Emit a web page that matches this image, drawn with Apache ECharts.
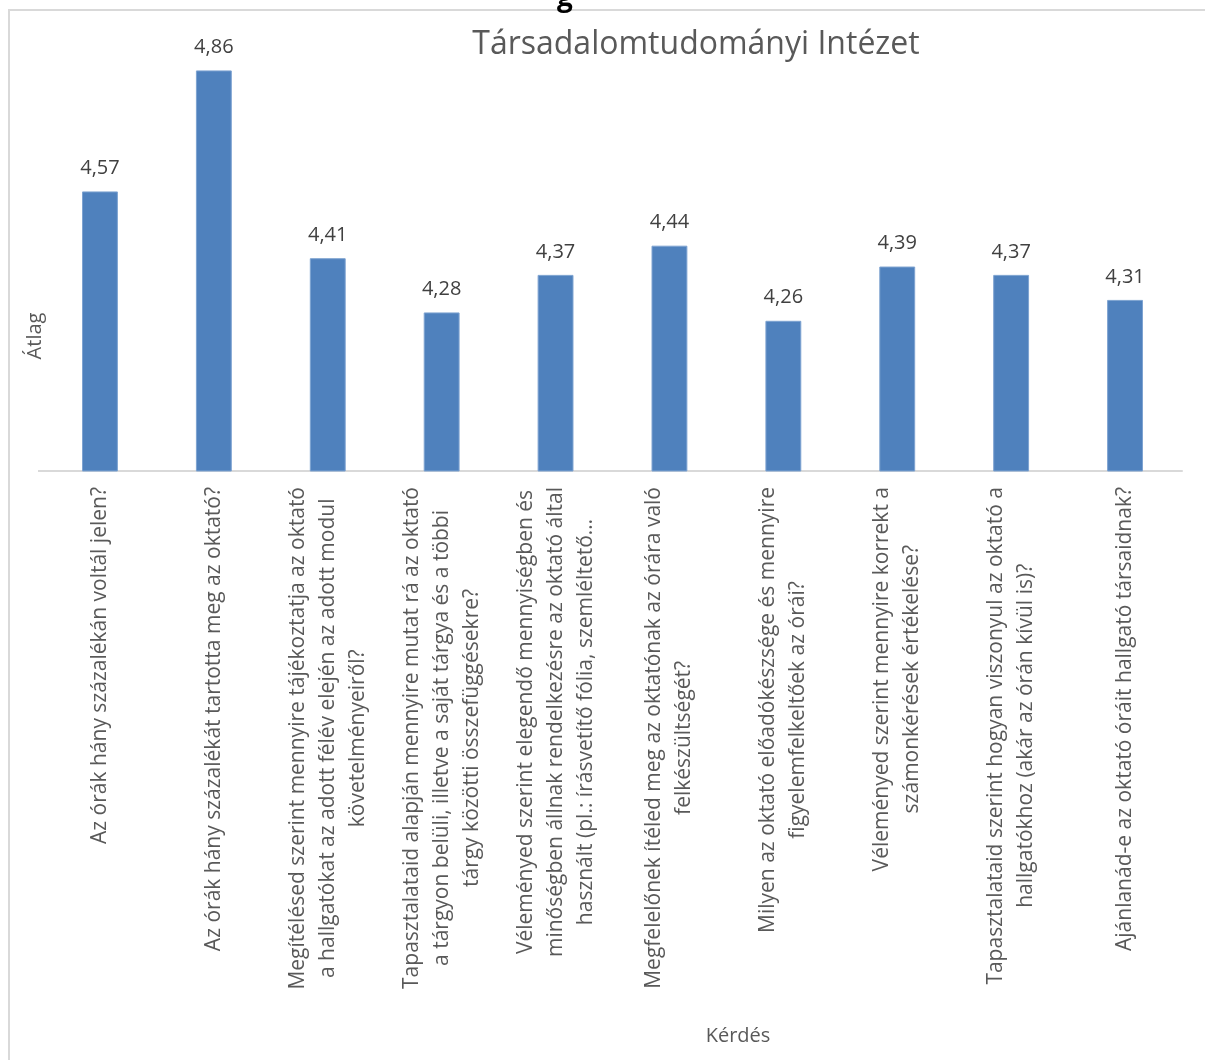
<!DOCTYPE html>
<html>
<head>
<meta charset="utf-8">
<script src="https://cdn.jsdelivr.net/npm/echarts@6.0.0/dist/echarts.min.js"></script>
<style>
  html, body { margin: 0; padding: 0; background: #fff; }
  #chart { width: 1205px; height: 1060px; }
</style>
</head>
<body>
<div id="chart"></div>
<script>
// kérdések (x tengely), sortörésekkel ahogy az eredetin
const questions = [
  'Az órák hány százalékán voltál jelen?',
  'Az órák hány százalékát tartotta meg az oktató?',
  'Megítélésed szerint mennyire tájékoztatja az oktató\na hallgatókat az adott félév elején az adott modul\nkövetelményeiről?',
  'Tapasztalataid alapján mennyire mutat rá az oktató\na tárgyon belüli, illetve a saját tárgya és a többi\ntárgy közötti összefüggésekre?',
  'Véleményed szerint elegendő mennyiségben és\nminőségben állnak rendelkezésre az oktató által\nhasznált (pl.: írásvetítő fólia, szemléltető…',
  'Megfelelőnek ítéled meg az oktatónak az órára való\nfelkészültségét?',
  'Milyen az oktató előadókészsége és mennyire\nfigyelemfelkeltőek az órái?',
  'Véleményed szerint mennyire korrekt a\nszámonkérések értékelése?',
  'Tapasztalataid szerint hogyan viszonyul az oktató a\nhallgatókhoz (akár az órán kívül is)?',
  'Ajánlanád-e az oktató óráit hallgató társaidnak?'
];
const averages = [4.57, 4.86, 4.41, 4.28, 4.37, 4.44, 4.26, 4.39, 4.37, 4.31];

const chartTitle = 'Társadalomtudományi Intézet';
const yName = 'Átlag';
const xName = 'Kérdés';

const fontFamily = '"Open Sans", "DejaVu Sans", sans-serif';
const textGray = '#595959';

let myChart = echarts.init(document.getElementById('chart'));

let option = {
  animation: false,
  textStyle: { fontFamily: fontFamily },
  title: {
    text: chartTitle,
    left: 691,
    top: 24,
    textAlign: 'center',
    textStyle: {
      fontFamily: fontFamily,
      fontSize: 32,
      fontWeight: 'normal',
      color: textGray
    }
  },
  grid: {
    left: 43,
    right: 23,
    top: 12,
    bottom: 589,
    outerBoundsMode: 'none'
  },
  xAxis: {
    type: 'category',
    data: questions,
    axisTick: { show: false },
    axisLine: {
      lineStyle: { color: '#d9d9d9', width: 2 }
    },
    axisLabel: {
      interval: 0,
      rotate: 90,
      margin: 16,
      color: textGray,
      fontSize: 21,
      fontFamily: fontFamily,
      formatter: function (val) {
        return val.split('\n').map(function (l) { return '{c|' + l + '}'; }).join('\n');
      },
      rich: {
        c: {
          align: 'center',
          lineHeight: 30,
          fontSize: 21,
          fontFamily: fontFamily,
          color: textGray
        }
      }
    }
  },
  yAxis: {
    type: 'value',
    min: 3.9,
    max: 5.0,
    show: false
  },
  series: [{
    type: 'bar',
    data: averages,
    barWidth: '31.5%',
    itemStyle: {
      color: '#4f81bd',
      borderColor: '#7ea3d1',
      borderWidth: 1
    },
    label: {
      show: true,
      position: 'top',
      distance: 13,
      fontSize: 20,
      fontFamily: fontFamily,
      color: '#404040',
      formatter: function (p) {
        return p.value.toFixed(2).replace('.', ',');
      }
    }
  }],
  graphic: [
    {
      type: 'rect',
      silent: true,
      shape: { x: 9, y: 10, width: 1300, height: 1200 },
      style: { fill: 'none', stroke: '#d9d9d9', lineWidth: 2 }
    },
    {
      type: 'line',
      silent: true,
      shape: { x1: 38, y1: 471, x2: 44, y2: 471 },
      style: { stroke: '#d9d9d9', lineWidth: 2 }
    },
    {
      type: 'text',
      x: 557,
      y: 12,
      style: {
        text: 'g',
        fontSize: 28,
        fontWeight: 'bold',
        fontFamily: fontFamily,
        fill: '#000',
        verticalAlign: 'bottom'
      }
    },
    {
      type: 'text',
      x: 35,
      y: 336,
      rotation: Math.PI / 2,
      style: {
        text: yName,
        fontSize: 20,
        fontFamily: fontFamily,
        fill: textGray,
        align: 'center',
        verticalAlign: 'middle'
      }
    },
    {
      type: 'text',
      x: 738,
      y: 1036,
      style: {
        text: xName,
        fontSize: 20,
        fontFamily: fontFamily,
        fill: textGray,
        align: 'center',
        verticalAlign: 'middle'
      }
    }
  ]
};

myChart.setOption(option, true);

window.addEventListener('resize', () => {
  myChart.resize();
});
</script>
</body>
</html>
